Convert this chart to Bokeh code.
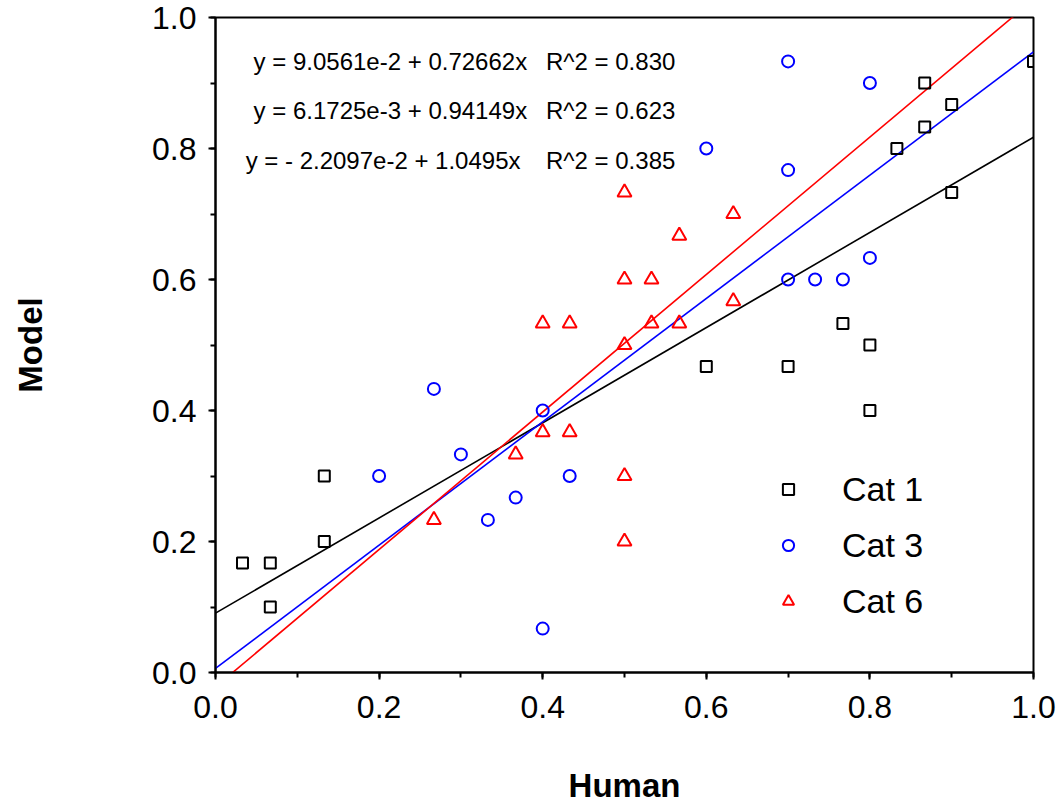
from bokeh.plotting import figure
from bokeh.models import (Range1d, SingleIntervalTicker, PrintfTickFormatter,
                          Legend, LegendItem, Label)
from bokeh.embed import file_html
from bokeh.resources import INLINE

# Human vs. model judgements for three categories
cat1_x = [0.033, 0.067, 0.067, 0.133, 0.133, 0.6, 0.7, 0.767, 0.8, 0.8,
          0.833, 0.867, 0.867, 0.9, 0.9, 1.0]
cat1_y = [0.167, 0.167, 0.1, 0.3, 0.2, 0.467, 0.467, 0.533, 0.5, 0.4,
          0.8, 0.9, 0.833, 0.867, 0.733, 0.933]

cat3_x = [0.2, 0.267, 0.3, 0.333, 0.367, 0.4, 0.4, 0.433, 0.6, 0.7,
          0.7, 0.7, 0.733, 0.767, 0.8, 0.8]
cat3_y = [0.3, 0.433, 0.333, 0.233, 0.267, 0.4, 0.067, 0.3, 0.8, 0.933,
          0.767, 0.6, 0.6, 0.6, 0.633, 0.9]

cat6_x = [0.267, 0.367, 0.4, 0.4, 0.433, 0.433, 0.5, 0.5, 0.5, 0.5, 0.5,
          0.533, 0.533, 0.567, 0.567, 0.633, 0.633]
cat6_y = [0.233, 0.333, 0.533, 0.367, 0.533, 0.367, 0.733, 0.6, 0.5, 0.3, 0.2,
          0.6, 0.533, 0.667, 0.533, 0.7, 0.567]

# Linear fits (Cat 1, Cat 3, Cat 6)
fit_intercepts = [9.0561e-2, 6.1725e-3, -2.2097e-2]
fit_slopes = [0.72662, 0.94149, 1.0495]
r_squared = [0.830, 0.623, 0.385]
fit_equations = ["y = 9.0561e-2 + 0.72662x",
                 "y = 6.1725e-3 + 0.94149x",
                 "y =  - 2.2097e-2 + 1.0495x"]
fit_colors = ["black", "blue", "red"]

series_labels = ["Cat 1", "Cat 3", "Cat 6"]
tick_values = [0.0, 0.2, 0.4, 0.6, 0.8, 1.0]

FONT = "Liberation Sans"

p = figure(width=1057, height=807, output_backend="svg", toolbar_location=None,
           x_range=Range1d(0, 1), y_range=Range1d(0, 1),
           min_border_left=215, min_border_right=24,
           min_border_top=17, min_border_bottom=135,
           background_fill_color="white", border_fill_color="white")

p.xgrid.visible = False
p.ygrid.visible = False
p.outline_line_color = "black"
p.outline_line_width = 2

for ax in (p.xaxis[0], p.yaxis[0]):
    ax.ticker = SingleIntervalTicker(interval=tick_values[1] - tick_values[0],
                                     num_minor_ticks=2)
    ax.formatter = PrintfTickFormatter(format="%.1f")
    ax.axis_line_color = "black"
    ax.axis_line_width = 2
    ax.major_tick_line_color = "black"
    ax.major_tick_line_width = 2
    ax.minor_tick_line_color = "black"
    ax.minor_tick_line_width = 2
    ax.major_tick_in = 0
    ax.major_tick_out = 7
    ax.minor_tick_in = 0
    ax.minor_tick_out = 5
    ax.major_label_text_font = FONT
    ax.major_label_text_font_size = "32px"
    ax.major_label_text_color = "black"
    ax.axis_label_text_font = FONT
    ax.axis_label_text_font_style = "bold"
    ax.axis_label_text_font_size = "33px"
    ax.axis_label_text_color = "black"

p.xaxis.axis_label = "Human"
p.yaxis.axis_label = "Model"
p.xaxis.major_label_standoff = 16
p.yaxis.major_label_standoff = 12
p.xaxis.axis_label_standoff = 46
p.yaxis.axis_label_standoff = 100

# Fit lines
line_x = [0.0, 1.0]
for b0, b1, col in zip(fit_intercepts, fit_slopes, fit_colors):
    p.line(line_x, [b0 + b1 * x for x in line_x], line_color=col, line_width=1.6)

# Scatter markers
r1 = p.scatter(cat1_x, cat1_y, marker="square", size=11, fill_alpha=0,
               line_color="black", line_width=2)
r3 = p.scatter(cat3_x, cat3_y, marker="circle", size=12, fill_alpha=0,
               line_color="blue", line_width=2)
r6 = p.scatter(cat6_x, cat6_y, marker="triangle", size=14, fill_alpha=0,
               line_color="red", line_width=2)

# Fit equations
eq_rows_y = [0.9335, 0.8587, 0.782]
for eq, r2, yy in zip(fit_equations, r_squared, eq_rows_y):
    p.add_layout(Label(x=0.381, y=yy, text=eq, text_align="right",
                       text_baseline="middle", text_font=FONT,
                       text_font_size="24px", text_color="black"))
    p.add_layout(Label(x=0.404, y=yy, text="R^2 = %.3f" % r2, text_align="left",
                       text_baseline="middle", text_font=FONT,
                       text_font_size="24px", text_color="black"))

legend = Legend(items=[LegendItem(label=lbl, renderers=[r])
                       for lbl, r in zip(series_labels, [r1, r3, r6])],
                location=(559, 51), orientation="vertical",
                glyph_width=28, glyph_height=28, label_height=40,
                label_standoff=40, spacing=16, padding=0, margin=0,
                label_text_font=FONT, label_text_font_size="34px",
                label_text_color="black", label_text_baseline="middle",
                background_fill_alpha=0, border_line_alpha=0)
p.add_layout(legend)

open("out.html", "w").write(file_html(p, INLINE))
